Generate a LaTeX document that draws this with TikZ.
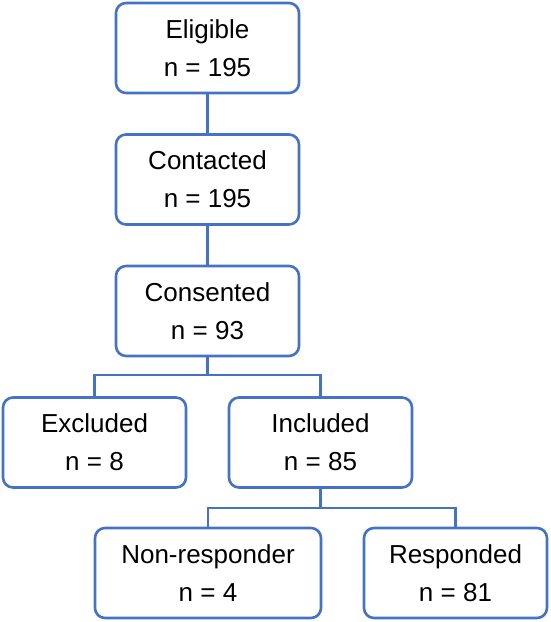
\documentclass[tikz,border=0pt]{standalone}
\usepackage{fontspec}
\setmainfont{Liberation Sans}
\definecolor{boxblue}{HTML}{4472C4}
\begin{document}
\begin{tikzpicture}[x=1pt,y=-1pt,
  flowbox/.style={draw=boxblue, line width=2.6pt, rounded corners=10pt, fill=white,
    minimum width=#1, minimum height=90pt, inner sep=0pt, align=center,
    font=\fontsize{26}{38}\selectfont},
  flowbox/.default=183pt,
  link/.style={draw=boxblue, line width=2.6pt}]
\useasboundingbox (0,0) rectangle (550,622);
\node[flowbox] (elig) at (207.5,48) {Eligible\\n = 195};
\node[flowbox] (cont) at (207.5,179.5) {Contacted\\n = 195};
\node[flowbox] (cons) at (207.5,311) {Consented\\n = 93};
\node[flowbox] (excl) at (94.5,442.5) {Excluded\\n = 8};
\node[flowbox] (incl) at (320.5,442.5) {Included\\n = 85};
\node[flowbox=226pt] (nonr) at (208,573) {Non-responder\\n = 4};
\node[flowbox] (resp) at (455.5,573) {Responded\\n = 81};
\coordinate (busa) at (0,375);
\coordinate (busb) at (0,508);
\path[link] (elig.south) -- (cont.north);
\path[link] (cont.south) -- (cons.north);
\path[link] (cons.south) -- (cons.south |- busa);
\path[link] (excl.north) |- (busa -| incl.north) -- (incl.north);
\path[link] (incl.south) -- (incl.south |- busb);
\path[link] (nonr.north) |- (busb -| resp.north) -- (resp.north);
\end{tikzpicture}
\end{document}
